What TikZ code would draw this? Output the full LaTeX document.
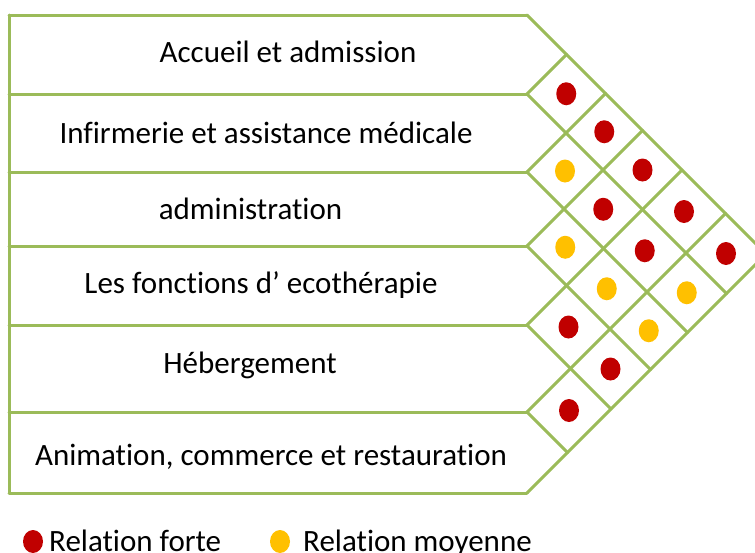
\documentclass[tikz,border=0pt]{standalone}
\usepackage{fontspec}
\setmainfont{Carlito}[Ligatures=NoCommon]
\definecolor{gridgreen}{RGB}{155,187,89}
\definecolor{strongred}{RGB}{192,0,0}
\definecolor{meanyellow}{RGB}{255,192,0}
\tikzset{
  rowline/.style={draw=gridgreen, line width=3pt, line cap=round},
  rowlabel/.style={anchor=base, inner sep=0pt, font=\fontsize{31}{37}\selectfont},
  legendlabel/.style={anchor=base west, inner sep=0pt, font=\fontsize{31}{37}\selectfont},
}

\begin{document}
\begin{tikzpicture}[x=1pt,y=-1pt]
\useasboundingbox (0,0) rectangle (755,552);
\begin{scope}
    \clip (0,0) rectangle (755,552);

    % Rows of the list
    \foreach \y in {15,94,172,246,325,412,493}
        \draw[rowline] (9,\y) -- (527,\y);
    \draw[rowline] (9,15) -- (9,493);

    % Diagonals going down to the right
    \foreach \y in {15,94,172,246,325,412}
        \draw[rowline] (527,\y) -- ({527+(493-\y)/2},{(\y+493)/2});

    % Diagonals going up to the right
    \foreach \y in {94,172,246,325,412,493}
        \draw[rowline] (527,\y) -- ({527+(\y-15)/2},{(\y+15)/2});

    % Relations between two rows (row centres)
    \foreach \a/\b/\col in {54.5/133/strongred, 54.5/209/strongred, 54.5/285.5/strongred,
        54.5/368.5/strongred, 54.5/452.5/strongred, 133/209/meanyellow,
        133/285.5/strongred, 133/368.5/strongred, 133/452.5/meanyellow,
        209/285.5/meanyellow, 209/368.5/meanyellow, 209/452.5/meanyellow,
        285.5/368.5/strongred, 285.5/452.5/strongred, 368.5/452.5/strongred}
        \fill[\col] ({527+(\b-\a)/2},{(\a+\b)/2}) ellipse (10 and 11.5);

    % Legend
    \fill[strongred] (33,541.5) ellipse (10 and 11.5);
    \fill[meanyellow] (280,541.5) ellipse (10 and 11.5);
    \node[legendlabel] (forte) at (49,551) {Relation forte};
    \node[legendlabel] (moyenne) at (303,551) {Relation moyenne};
\end{scope}

% Row labels
\node[rowlabel] (accueil) at (288,62) {Accueil et admission};
\node[rowlabel] (infirmerie) at (266,143) {Infirmerie et assistance médicale};
\node[rowlabel] (admin) at (250.5,219) {administration};
\node[rowlabel] (ecotherapie) at (261,293) {Les fonctions d’ ecothérapie};
\node[rowlabel] (hebergement) at (250,373) {Hébergement};
\node[rowlabel] (animation) at (271,465) {Animation, commerce et restauration};

\end{tikzpicture}
\end{document}
